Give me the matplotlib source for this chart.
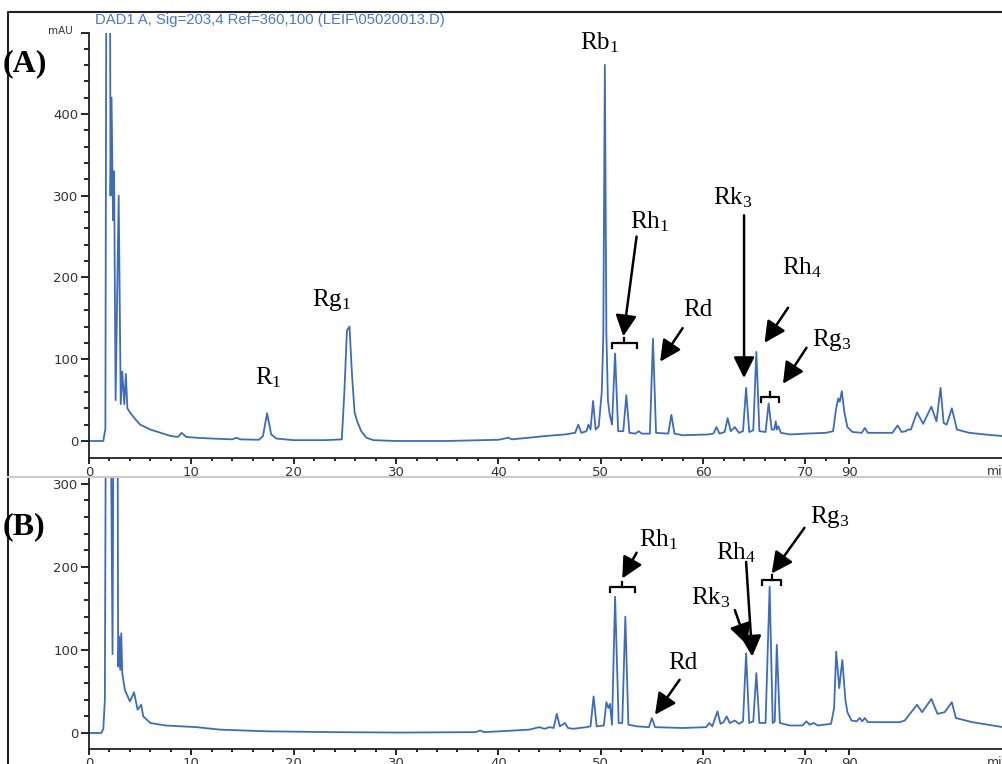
import matplotlib
matplotlib.use("Agg")
import matplotlib.pyplot as plt
from matplotlib.lines import Line2D

plt.rcParams["mathtext.fontset"] = "custom"
plt.rcParams["mathtext.rm"] = "Liberation Serif"
plt.rcParams["mathtext.it"] = "Liberation Serif:italic"

# ---- chromatogram (A): retention time (display min) / signal (mAU)
time_a = [0, 1.4, 1.6, 1.75, 2.0, 2.1, 2.2, 2.35, 2.45, 2.6, 2.9, 3.1, 3.25, 3.45, 3.6, 3.75,
          4.0, 4.5, 5.0, 6.0, 7.0, 8.0, 8.7, 9.05, 9.5, 10.5, 12, 14, 14.4, 14.8, 16.6, 17.0,
          17.4, 17.8, 18.3, 20, 23, 24.7, 24.95, 25.2, 25.45, 25.7, 25.95, 26.2, 26.6, 27.1,
          27.8, 30, 35, 40, 41, 41.3, 43, 44.5, 46.5, 47.5, 47.8, 48.1, 48.6, 48.8, 49.0,
          49.25, 49.5, 49.8, 50.1, 50.25, 50.4, 50.55, 50.7, 50.85, 51.1, 51.4, 51.7, 52.2,
          52.5, 52.8, 53.4, 53.7, 54.0, 54.8, 55.1, 55.4, 56.6, 56.9, 57.2, 58, 60.5, 61.0,
          61.3, 61.6, 62.1, 62.4, 62.7, 63.1, 63.5, 63.9, 64.2, 64.5, 64.9, 65.2, 65.5, 66.1,
          66.4, 66.7, 66.95, 67.1, 67.2, 67.35, 67.6, 68.5, 70, 72.0, 72.7, 73.0, 73.2, 73.35,
          73.55, 73.8, 74.1, 74.6, 75.5, 75.8, 76.1, 78.5, 79.0, 79.4, 79.8, 80.0, 80.3, 80.9,
          81.5, 82.3, 82.8, 83.2, 83.5, 83.8, 84.3, 84.8, 86, 87.5, 89.3]
signal_a = [0, 0, 15, 900, 900, 300, 420, 270, 330, 50, 300, 45, 85, 45, 82, 40,
            35, 27, 20, 14, 10, 6, 5, 10, 5, 4, 3, 2, 4, 2, 1.5, 6,
            34, 8, 3, 1, 1, 2, 60, 135, 140, 80, 35, 24, 12, 4,
            1, 0, 0, 1.5, 4, 2, 4, 6, 8, 10, 20, 10, 12, 20, 14,
            49, 14, 18, 60, 130, 460, 130, 50, 34, 20, 107, 12, 12,
            56, 10, 9, 12, 9, 9, 125, 10, 9, 32, 9, 7, 8, 9,
            17, 9, 11, 28, 12, 17, 10, 12, 65, 11, 13, 109, 12, 11,
            46, 14, 14, 24, 14, 18, 10, 8, 9, 10, 12, 40, 52, 48,
            61, 35, 17, 11, 10, 16, 10, 10, 19, 11, 12, 14, 14, 35,
            21, 42, 24, 65, 22, 20, 40, 14, 10, 8, 6]

# ---- chromatogram (B)
time_b = [0, 1.2, 1.4, 1.55, 1.7, 2.0, 2.3, 2.45, 2.75, 2.85, 2.95, 3.05, 3.15, 3.25, 3.5,
          4.0, 4.4, 4.75, 5.1, 5.3, 6.0, 7.5, 9, 10.5, 12.8, 17.4, 23.8, 30.4, 37.8, 38.2,
          38.6, 40.1, 43, 44, 44.5, 45.0, 45.4, 45.7, 46.0, 46.5, 46.8, 47.3, 48.6, 49.0,
          49.3, 49.6, 50.3, 50.55, 50.75, 50.9, 51.1, 51.4, 51.75, 52.1, 52.4, 52.7, 53.5,
          54.7, 55.0, 55.3, 58, 60.3, 60.6, 60.9, 61.4, 61.7, 62.0, 62.3, 62.6, 63.1, 63.5,
          63.9, 64.2, 64.5, 64.9, 65.2, 65.5, 66.1, 66.5, 66.8, 67.0, 67.2, 67.5, 68.5, 69.7,
          70.1, 70.4, 70.8, 71.2, 72.5, 72.8, 73.0, 73.3, 73.6, 73.9, 74.1, 74.5, 75.0, 75.3,
          75.55, 75.8, 76.1, 79.2, 79.7, 80.9, 81.4, 82.3, 82.9, 83.6, 84.3, 84.7, 86.3, 89.3]
signal_b = [0, 0, 5, 40, 600, 600, 95, 600, 600, 80, 116, 76, 120, 72, 52,
            38, 49, 28, 34, 20, 12, 9, 8, 7, 4, 2, 1, 0.5, 1, 3,
            1, 2, 4, 7, 5, 7, 6, 23, 8, 12, 6, 5, 7, 8,
            44, 8, 9, 37, 30, 35, 10, 164, 12, 12, 140, 10, 8,
            7, 18, 7, 6, 7, 12, 8, 26, 11, 13, 20, 12, 15, 11,
            14, 96, 12, 14, 72, 12, 12, 176, 12, 14, 106, 12, 9, 9,
            14, 10, 12, 9, 11, 30, 98, 54, 88, 40, 25, 15, 14, 18,
            14, 18, 13, 13, 15, 34, 25, 41, 23, 25, 37, 18, 13, 7]

# x tick positions / labels (the axis is broken after 70)
xtick_pos = [0, 10, 20, 30, 40, 50, 60, 70, 74.3]
xtick_lab = ["0", "10", "20", "30", "40", "50", "60", "70", "90"]

# annotations: label, text position, arrow tail, arrow head
labels_a = ["Rb$_1$", "R$_1$", "Rg$_1$", "Rh$_1$", "Rd", "Rk$_3$", "Rh$_4$", "Rg$_3$"]
text_a = [(49.9, 487), (17.5, 77), (23.7, 172), (54.8, 268), (59.5, 160), (62.9, 298),
          (69.7, 212), (72.6, 124)]
arrow_a = [None, None, None, ((53.5, 250), (52.2, 128)), ((58.0, 138), (55.8, 97)),
           ((64.0, 276), (64.0, 77)), ((68.3, 163), (66.0, 120)), ((70.1, 114), (67.8, 70))]
brackets_a = [(51.1, 53.5, 120), (65.7, 67.4, 54)]

labels_b = ["Rh$_1$", "Rd", "Rk$_3$", "Rh$_4$", "Rg$_3$"]
text_b = [(55.6, 233), (58.0, 84), (60.7, 163), (63.2, 217), (72.4, 260)]
arrow_b = [((53.5, 217), (52.1, 186)), ((57.7, 64), (55.3, 22)), ((63.1, 148), (64.3, 106)),
           ((64.2, 206), (64.8, 92)), ((69.9, 247), (66.7, 192))]
brackets_b = [(50.9, 53.3, 176), (65.8, 67.6, 184)]

W, H = 1003, 764
line_col = "#3d6cb9"
serif = "Liberation Serif"
arrow_kw = dict(arrowstyle="-|>,head_length=0.8,head_width=0.4", lw=1.8, color="k",
                mutation_scale=16, shrinkA=0, shrinkB=0)


def bracket(ax, x0, x1, y, h):
    xm = (x0 + x1) / 2
    ax.plot([x0, x0, x1, x1], [y - h, y, y, y - h], color="k", lw=1.6, clip_on=False)
    ax.plot([xm, xm], [y, y + h], color="k", lw=1.6, clip_on=False)


def style_axis(ax, ylim, ymajor, yminor):
    ax.set_xlim(0, 89.3)
    ax.set_ylim(*ylim)
    for s in ["top", "right"]:
        ax.spines[s].set_visible(False)
    for s in ["left", "bottom"]:
        ax.spines[s].set_linewidth(1.3)
        ax.spines[s].set_color("#222222")
    ax.set_xticks(xtick_pos)
    ax.set_xticklabels(xtick_lab)
    ax.set_xticks([x for x in range(2, 73, 2) if x % 10 != 0], minor=True)
    ax.set_yticks(ymajor)
    ax.set_yticklabels([str(v) if v % 100 == 0 else "" for v in ymajor])
    ax.set_yticks(yminor, minor=True)
    ax.tick_params(axis="x", which="major", direction="out", length=4, width=1.2,
                   pad=1.5, labelsize=9.5, labelcolor="#333333")
    ax.tick_params(axis="x", which="minor", direction="out", length=2.5, width=1.2)
    ax.tick_params(axis="y", which="major", direction="out", length=6, width=1.2,
                   pad=1.5, labelsize=9.5, labelcolor="#333333")
    ax.tick_params(axis="y", which="minor", direction="out", length=3.5, width=1.2)
    ax.set_facecolor("none")


fig = plt.figure(figsize=(W / 100, H / 100), dpi=100)

axA = fig.add_axes([89 / W, (H - 458) / H, (W - 89) / W, (458 - 33) / H])
axA.plot(time_a, signal_a, color=line_col, lw=1.3)
style_axis(axA, (-20.8, 499), [0, 100, 200, 300, 400, 499],
           [v for v in range(20, 481, 20) if v % 100 != 0])

axB = fig.add_axes([89 / W, (H - 749) / H, (W - 89) / W, (749 - 478) / H])
axB.plot(time_b, signal_b, color=line_col, lw=1.3)
style_axis(axB, (-19.3, 307), [0, 100, 200, 300],
           [v for v in range(20, 300, 20) if v % 100 != 0])

for lab, pos, arr in zip(labels_a, text_a, arrow_a):
    axA.text(pos[0], pos[1], lab, family=serif, fontsize=18, ha="center", va="center",
             clip_on=False)
    if arr:
        axA.annotate("", xy=arr[1], xytext=arr[0], annotation_clip=False,
                     arrowprops=arrow_kw)
for b in brackets_a:
    bracket(axA, b[0], b[1], b[2], 6)

for lab, pos, arr in zip(labels_b, text_b, arrow_b):
    axB.text(pos[0], pos[1], lab, family=serif, fontsize=18, ha="center", va="center",
             clip_on=False)
    axB.annotate("", xy=arr[1], xytext=arr[0], annotation_clip=False,
                 arrowprops=arrow_kw)
for b in brackets_b:
    bracket(axB, b[0], b[1], b[2], 6)

# frame, separator and header texts
fig.add_artist(Line2D([8 / W, 8 / W, 1], [0, 1 - 12 / H, 1 - 12 / H], color="#222222", lw=1.5))
fig.add_artist(Line2D([8 / W, 1], [1 - 477 / H, 1 - 477 / H], color="#cccccc", lw=1.5))
fig.text(95 / W, 1 - 20 / H, r"DAD1 A, Sig=203,4 Ref=360,100 (LEIF\05020013.D)",
         family="Liberation Sans", fontsize=10.7, color="#4a78c8", va="center")
fig.text(60 / W, 1 - 31 / H, "mAU", fontsize=7.5, color="#333333", ha="center", va="center")
fig.text(3 / W, 1 - 64 / H, "(A)", family=serif, fontsize=23, fontweight="bold", va="center")
fig.text(3 / W, 1 - 527 / H, "(B)", family=serif, fontsize=23, fontweight="bold", va="center")
fig.text(987 / W, 1 - 471 / H, "min", fontsize=9, color="#333333", va="center")
fig.text(987 / W, 1 - 762 / H, "min", fontsize=9, color="#333333", va="center")

fig.savefig("out.png", dpi=100)
